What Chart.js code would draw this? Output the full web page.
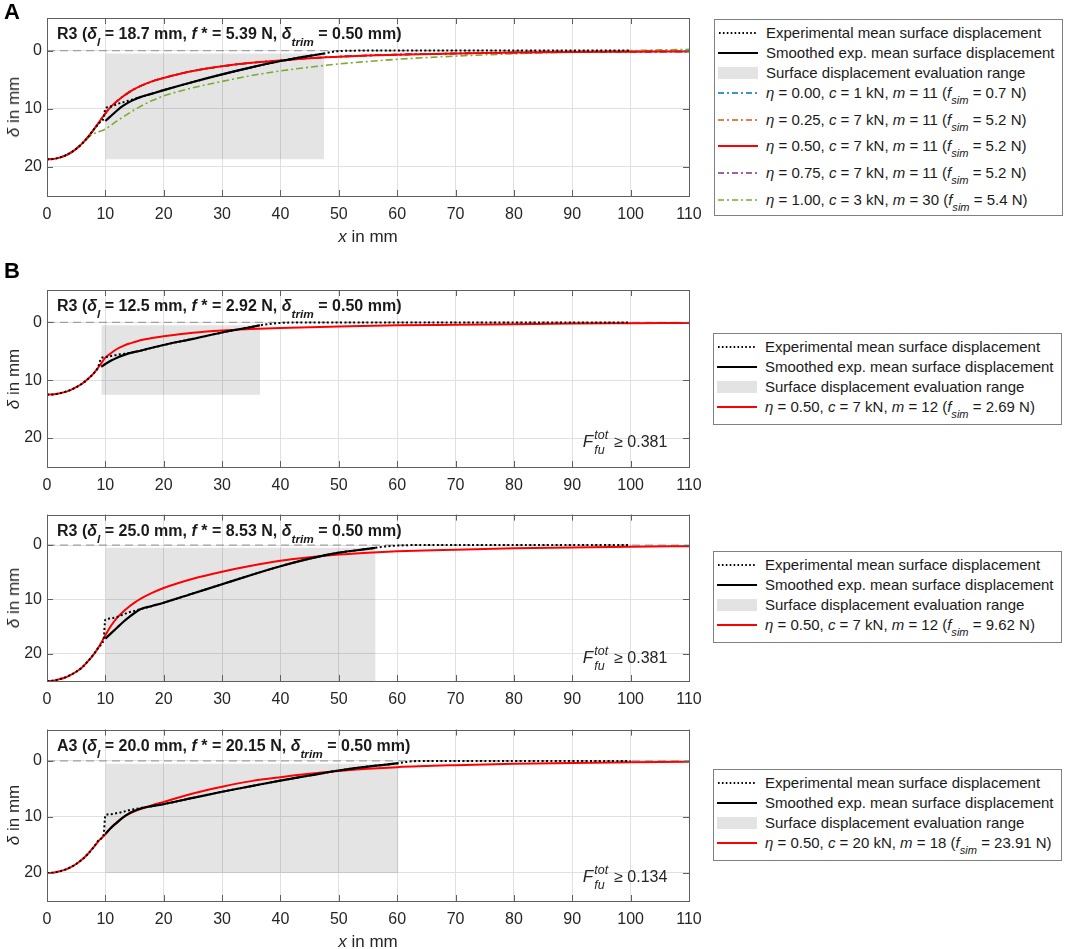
<!DOCTYPE html>
<html>
<head>
<meta charset="utf-8">
<script src="https://cdn.jsdelivr.net/npm/chart.js@4.4.1/dist/chart.umd.min.js"></script>
<style>
html,body{margin:0;padding:0;background:#fff;}
#root{position:relative;width:1065px;height:949px;overflow:hidden;font-family:"Liberation Sans",Arial,Helvetica,sans-serif;color:#1a1a1a;background:#fff;}
canvas{position:absolute;left:0;}
.ov{position:absolute;white-space:nowrap;}
.letter{font-weight:bold;font-size:22px;line-height:22px;color:#000;}
.ptitle{font-weight:bold;font-size:16px;line-height:18px;color:#1a1a1a;transform:translateY(-50%);}
sub.s{font-size:0.74em;vertical-align:-0.55em;line-height:0;}
.ytitle{font-size:17px;line-height:18px;transform:translate(-50%,-50%) rotate(-90deg);color:#262626;}
.xtitle{font-size:17px;line-height:18px;transform:translate(-50%,-50%);color:#262626;}
.ann{font-size:16px;line-height:18px;color:#262626;transform:translate(-100%,-50%);}
.ann i.F{font-size:17px;}
.ss{display:inline-block;vertical-align:-7px;font-size:12.5px;line-height:15px;font-style:italic;margin-left:1px;margin-right:6px;}
.ss span{display:block;}
.legend{position:absolute;border:1px solid #808080;background:#fff;box-sizing:border-box;padding-top:3px;font-size:15px;color:#1a1a1a;}
.row{display:flex;align-items:flex-start;height:20px;}
.row.tall{height:26.7px;}
.row svg{margin-left:3px;margin-top:4px;flex:none;}
.row .t{margin-left:8px;line-height:20px;white-space:nowrap;}
</style>
</head>
<body>
<div id="root"></div>
<script>
// ---------------- DATA ----------------
// common axis settings
const xTicksStep = 10;
const xRange = [0, 110];
const yRange = [-5.6, 25];
const yTicks = [0, 10, 20];
const zeroLineX = [0, 110];
const zeroLineY = [0, 0];

// Panel A : R3 (delta_l = 18.7 mm)
const aExpX = [0,1,2,3,4,5,6,7,8,9,9.7,10,11,12,13,14,16,18,20,25,30,35,40,45,47.5,49,51,55,60,70,80,90,100];
const aExpY = [18.7,18.65,18.45,18.1,17.6,16.9,16.0,14.9,13.6,12.4,11.6,10.0,9.6,9.2,8.9,8.6,8.0,7.4,6.8,5.4,4.1,2.9,1.8,0.9,0.5,0.2,0.05,0,0,0,0,0,0];
const aSmoX = [10,11,12,13,14,15,16,18,20,25,30,35,40,45,47.5];
const aSmoY = [12.1,11.2,10.3,9.5,8.9,8.4,8.0,7.4,6.8,5.4,4.1,2.9,1.8,0.9,0.5];
const aSimX = [0,1,2,3,4,5,6,7,8,9,10,11,12,13,14,15,16,18,20,25,30,35,40,45,50,55,60,70,80,90,100,110];
const aSimEta050Y = [18.7,18.65,18.45,18.1,17.6,16.9,16.0,14.9,13.6,12.2,10.8,9.6,8.7,7.9,7.2,6.6,6.1,5.3,4.7,3.5,2.7,2.1,1.7,1.3,1.05,0.85,0.7,0.5,0.35,0.25,0.2,0.15];
const aSimEta000Y = [18.7,18.65,18.45,18.1,17.6,16.9,16.0,14.9,13.6,12.2,10.8,9.6,8.7,7.9,7.2,6.6,6.1,5.3,4.7,3.5,2.7,2.1,1.7,1.3,1.05,0.85,0.7,0.5,0.35,0.25,0.2,0.15];
const aSimEta025Y = [18.7,18.65,18.45,18.1,17.6,16.9,16.0,14.9,13.6,12.2,10.8,9.6,8.7,7.9,7.2,6.6,6.1,5.3,4.7,3.5,2.7,2.1,1.7,1.3,1.05,0.85,0.7,0.5,0.35,0.25,0.2,0.15];
const aSimEta075Y = [18.7,18.65,18.45,18.1,17.6,16.9,16.0,14.9,13.6,12.2,10.8,9.6,8.7,7.9,7.2,6.6,6.1,5.3,4.7,3.5,2.7,2.1,1.7,1.3,1.05,0.85,0.7,0.5,0.35,0.25,0.2,0.15];
const aSim100X = [0,1,2,3,4,5,6,7,8,9,10,12,14,16,18,20,25,30,35,40,45,50,60,70,80,90,100,110];
const aSimEta100Y = [18.7,18.65,18.45,18.1,17.6,16.9,16.0,15.0,14.3,13.9,13.5,12.1,10.8,9.6,8.6,7.8,6.4,5.3,4.3,3.5,2.85,2.3,1.5,0.95,0.55,0.25,0.0,-0.2];
const aRangeX = [10, 47.5];
const aRangeDepth = [0.5, 18.7];

// Panel B1 : R3 (delta_l = 12.5 mm)
const b1ExpX = [0,1,2,3,4,5,6,7,8,8.7,9.3,10,11,12,13,14,16,20,25,30,35,36.5,38,40,45,55,70,85,100];
const b1ExpY = [12.5,12.45,12.3,12.05,11.7,11.2,10.6,9.8,8.8,7.9,6.2,6.0,5.8,5.6,5.45,5.3,4.9,3.9,2.85,1.75,0.8,0.5,0.3,0.1,0,0,0,0,0];
const b1SmoX = [9.3,10,11,12,13,14,16,20,25,30,35,36.5];
const b1SmoY = [7.7,7.2,6.6,6.1,5.7,5.35,4.9,3.9,2.85,1.75,0.8,0.5];
const b1SimX = [0,1,2,3,4,5,6,7,8,9,10,11,12,13,14,15,16,18,20,25,30,35,40,50,60,70,80,90,100,110];
const b1SimY = [12.5,12.45,12.3,12.05,11.7,11.2,10.6,9.8,8.8,7.5,6.1,5.3,4.6,4.1,3.7,3.4,3.1,2.7,2.4,1.8,1.4,1.15,0.95,0.7,0.5,0.4,0.3,0.2,0.15,0.1];
const b1RangeX = [9.3, 36.5];
const b1RangeDepth = [0.5, 12.5];

// Panel B2 : R3 (delta_l = 25.0 mm)
const b2ExpX = [0,1,2,3,4,5,6,7,8,9,9.7,10,11,12,13,14,15,16,20,25,30,35,40,45,50,55,56.3,58,60,63,70,85,100];
const b2ExpY = [25,24.95,24.7,24.4,23.9,23.3,22.5,21.4,20.1,18.6,17.3,13.7,13.5,13.2,12.8,12.4,12.1,11.8,10.6,8.9,7.2,5.5,3.9,2.5,1.4,0.7,0.5,0.25,0.1,0,0,0,0];
const b2SmoX = [10,11,12,13,14,15,16,18,20,25,30,35,40,45,50,55,56.3];
const b2SmoY = [17.2,16.2,15.2,14.2,13.3,12.5,11.8,11.2,10.6,8.9,7.2,5.5,3.9,2.5,1.4,0.7,0.5];
const b2SimX = [0,1,2,3,4,5,6,7,8,9,10,11,12,13,14,15,16,18,20,25,30,35,40,45,50,55,60,70,80,90,100,110];
const b2SimY = [25,24.95,24.7,24.4,23.9,23.3,22.5,21.4,20.1,18.5,16.6,14.8,13.4,12.3,11.4,10.6,9.9,8.8,7.9,6.2,4.9,3.8,2.9,2.25,1.75,1.4,1.15,0.85,0.6,0.45,0.3,0.2];
const b2RangeX = [10, 56.3];
const b2RangeDepth = [0.5, 25.0];

// Panel B3 : A3 (delta_l = 20.0 mm)
const b3ExpX = [0,1,2,3,4,5,6,7,8,9,9.7,10,11,12,13,14,15,16,18,20,25,30,35,40,45,50,55,60.2,62,65,75,90,100];
const b3ExpY = [20,19.95,19.75,19.45,19.0,18.4,17.6,16.6,15.4,14.0,13.2,9.7,9.5,9.3,9.1,8.8,8.6,8.4,8.05,7.7,6.6,5.5,4.5,3.5,2.6,1.7,1.0,0.4,0.1,0,0,0,0];
const b3SmoX = [10,11,12,13,14,15,16,18,20,25,30,35,40,45,50,55,60.2];
const b3SmoY = [13.0,11.9,11.0,10.1,9.4,8.9,8.5,8.05,7.7,6.6,5.5,4.5,3.5,2.6,1.7,1.0,0.4];
const b3SimX = [0,1,2,3,4,5,6,7,8,9,10,11,12,13,14,15,16,18,20,25,30,35,40,45,50,55,60,70,80,90,100,110];
const b3SimY = [20,19.95,19.75,19.45,19.0,18.4,17.6,16.6,15.4,14.1,13.1,11.9,10.9,10.1,9.5,9.0,8.6,7.9,7.3,5.8,4.6,3.6,2.9,2.3,1.8,1.4,1.1,0.75,0.5,0.35,0.25,0.15];
const b3RangeX = [10, 60.2];
const b3RangeDepth = [0.5, 20.0];

// Panel headers / annotations
const panelNames = ['R3','R3','R3','A3'];
const panelDeltaL = ['18.7','12.5','25.0','20.0'];
const panelFstar = ['5.39','2.92','8.53','20.15'];
const panelTrim = ['0.50','0.50','0.50','0.50'];
const panelFfu = [null,'0.381','0.381','0.134'];

// Legend entries
const legendCommon = ['Experimental mean surface displacement','Smoothed exp. mean surface displacement','Surface displacement evaluation range'];
const aLegEta = ['0.00','0.25','0.50','0.75','1.00'];
const aLegC = ['1','7','7','7','3'];
const aLegM = ['11','11','11','11','30'];
const aLegF = ['0.7','5.2','5.2','5.2','5.4'];
const bLegEta = ['0.50','0.50','0.50'];
const bLegC = ['7','7','20'];
const bLegM = ['12','12','18'];
const bLegF = ['2.69','9.62','23.91'];

// ---------------- STYLE ----------------
const FONT = "'Liberation Sans', Arial, Helvetica, sans-serif";
const C_BLUE='#0072BD', C_ORANGE='#D95319', C_RED='#FF0000', C_PURPLE='#7E2F8E', C_GREEN='#77AC30';
const C_BOX='rgba(0,0,0,0.105)';
const DOT=[2,2.4], DASHDOT=[7,3,2,3];

const pts = (xs, ys) => xs.map((x,i)=>({x, y: ys[i]}));

function lineDs(xs, ys, color, width, dash){
  return {data: pts(xs,ys), borderColor: color, borderWidth: width, borderDash: dash||[], pointRadius: 0, fill: false, cubicInterpolationMode: 'monotone', borderCapStyle:'butt'};
}
function rangeDs(rx, rd){
  return {data: pts(rx, [rd[1], rd[1]]), borderWidth: 0, borderColor: 'rgba(0,0,0,0)', backgroundColor: C_BOX, pointRadius: 0, fill: {value: rd[0]}, tension: 0};
}
function zeroDs(){
  return {data: pts(zeroLineX, zeroLineY), borderColor: '#a0a0a0', borderWidth: 1.2, borderDash: [8,5], pointRadius: 0, fill: false};
}

const decor = {
  id: 'decor',
  afterDraw(chart){
    const {ctx, chartArea: a, scales: {x, y}} = chart;
    ctx.save();
    ctx.strokeStyle = '#5f5f5f';
    ctx.lineWidth = 1;
    ctx.beginPath();
    x.ticks.forEach(t => {
      const px = Math.round(x.getPixelForValue(t.value)) + 0.5;
      ctx.moveTo(px, a.top); ctx.lineTo(px, a.top + 6);
      ctx.moveTo(px, a.bottom); ctx.lineTo(px, a.bottom - 6);
    });
    y.ticks.forEach(t => {
      const py = Math.round(y.getPixelForValue(t.value)) + 0.5;
      ctx.moveTo(a.left, py); ctx.lineTo(a.left + 6, py);
      ctx.moveTo(a.right, py); ctx.lineTo(a.right - 6, py);
    });
    ctx.stroke();
    ctx.strokeRect(Math.round(a.left) + 0.5, Math.round(a.top) + 0.5, Math.round(a.right - a.left), Math.round(a.bottom - a.top));
    ctx.restore();
  }
};

function makeChart(cfg){
  const root = document.getElementById('root');
  const cv = document.createElement('canvas');
  cv.width = 720; cv.height = cfg.h;
  cv.style.width = '720px'; cv.style.height = cfg.h + 'px';
  cv.style.top = cfg.top + 'px';
  root.appendChild(cv);
  const tickFont = {family: FONT, size: 16};
  return new Chart(cv, {
    type: 'line',
    data: {datasets: cfg.datasets},
    options: {
      responsive: false, maintainAspectRatio: false, animation: false, devicePixelRatio: 1,
      layout: {padding: {top: cfg.padTop, right: 31, left: 0, bottom: 0}},
      plugins: {legend: {display: false}, tooltip: {enabled: false}},
      scales: {
        x: {type: 'linear', min: xRange[0], max: xRange[1],
            ticks: {stepSize: xTicksStep, font: tickFont, color: '#262626', padding: 9, maxRotation: 0, autoSkip: false},
            grid: {color: '#e0e0e0', drawTicks: false}, border: {display: false},
            afterFit: s => { s.height = cfg.xAxisH; }},
        y: {type: 'linear', reverse: true, min: yRange[0], max: yRange[1],
            afterBuildTicks: s => { s.ticks = yTicks.map(v => ({value: v})); },
            ticks: {font: tickFont, color: '#262626', padding: 5},
            grid: {color: '#e0e0e0', drawTicks: false}, border: {display: false},
            afterFit: s => { s.width = 47; }}
      }
    },
    plugins: [decor]
  });
}

function addOv(cls, html, left, top){
  const d = document.createElement('div');
  d.className = 'ov ' + cls;
  d.innerHTML = html;
  d.style.left = left + 'px';
  d.style.top = top + 'px';
  document.getElementById('root').appendChild(d);
  return d;
}

function swatch(type, color){
  if (type === 'dot') return '<svg width="40" height="12"><line x1="1" y1="6" x2="40" y2="6" stroke="#000" stroke-width="2" stroke-dasharray="1.6 2.3"/></svg>';
  if (type === 'solid') return '<svg width="40" height="12"><line x1="0" y1="6" x2="40" y2="6" stroke="'+color+'" stroke-width="2.2"/></svg>';
  if (type === 'patch') return '<svg width="40" height="12"><rect x="0" y="-0.5" width="40" height="13" fill="#e3e3e3"/></svg>';
  return '<svg width="40" height="12"><line x1="0" y1="6" x2="40" y2="6" stroke="'+color+'" stroke-width="1.6" stroke-dasharray="6 3 2 3"/></svg>';
}
function etaLabel(e, c, m, f){
  return '<i>η</i> = ' + e + ', <i>c</i> = ' + c + ' kN, <i>m</i> = ' + m + ' (<i>f</i><sub class="s"><i>sim</i></sub> = ' + f + ' N)';
}
function addLegend(left, top, width, height, rows){
  const d = document.createElement('div');
  d.className = 'legend';
  d.style.left = left + 'px'; d.style.top = top + 'px';
  d.style.width = width + 'px'; d.style.height = height + 'px';
  d.innerHTML = rows.map(r => '<div class="row' + (r.tall ? ' tall' : '') + '">' + swatch(r.type, r.color) + '<span class="t">' + r.label + '</span></div>').join('');
  document.getElementById('root').appendChild(d);
}

// ---------------- PANELS ----------------
const panelCfg = [
  {top: 0, h: 250, padTop: 18, xAxisH: 54, xTitle: true,
   datasets: [
     lineDs(aExpX, aExpY, '#000', 2, DOT),
     lineDs(aSmoX, aSmoY, '#000', 2.2),
     lineDs(aSimX, aSimEta050Y, C_RED, 2),
     lineDs(aSimX, aSimEta075Y, C_PURPLE, 1.6, DASHDOT),
     lineDs(aSimX, aSimEta025Y, C_ORANGE, 1.6, DASHDOT),
     lineDs(aSimX, aSimEta000Y, C_BLUE, 1.6, DASHDOT),
     lineDs(aSim100X, aSimEta100Y, C_GREEN, 1.6, DASHDOT),
     zeroDs(), rangeDs(aRangeX, aRangeDepth)]},
  {top: 270, h: 230, padTop: 20, xAxisH: 33, xTitle: false,
   datasets: [lineDs(b1ExpX, b1ExpY, '#000', 2, DOT), lineDs(b1SmoX, b1SmoY, '#000', 2.2), lineDs(b1SimX, b1SimY, C_RED, 2), zeroDs(), rangeDs(b1RangeX, b1RangeDepth)]},
  {top: 500, h: 215, padTop: 4, xAxisH: 34, xTitle: false,
   datasets: [lineDs(b2ExpX, b2ExpY, '#000', 2, DOT), lineDs(b2SmoX, b2SmoY, '#000', 2.2), lineDs(b2SimX, b2SimY, C_RED, 2), zeroDs(), rangeDs(b2RangeX, b2RangeDepth)]},
  {top: 715, h: 234, padTop: 9, xAxisH: 48, xTitle: true,
   datasets: [lineDs(b3ExpX, b3ExpY, '#000', 2, DOT), lineDs(b3SmoX, b3SmoY, '#000', 2.2), lineDs(b3SimX, b3SimY, C_RED, 2), zeroDs(), rangeDs(b3RangeX, b3RangeDepth)]}
];

panelCfg.forEach((cfg, i) => {
  const ch = makeChart(cfg);
  const a = ch.chartArea;
  const T = cfg.top;
  const x = ch.scales.x, y = ch.scales.y;
  addOv('ptitle', panelNames[i] + ' (<i>δ<sub class="s">l</sub></i> = ' + panelDeltaL[i] + ' mm, <i>f</i> * = ' + panelFstar[i] + ' N, <i>δ<sub class="s">trim</sub></i> = ' + panelTrim[i] + ' mm)', a.left + 10, T + a.top + 16);
  addOv('ytitle', '<i>δ</i> in mm', 14, T + (a.top + a.bottom) / 2);
  if (cfg.xTitle) addOv('xtitle', '<i>x</i> in mm', (a.left + a.right) / 2, T + a.bottom + 41);
  if (panelFfu[i]) {
    addOv('ann', '<i class="F">F</i><span class="ss"><span>tot</span><span>fu</span></span>≥ ' + panelFfu[i], x.getPixelForValue(106.3), T + y.getPixelForValue(20) + 5);
  }
});

addOv('letter', 'A', 4, 1);
addOv('letter', 'B', 4, 260);

const rowsCommon = [
  {type: 'dot', label: legendCommon[0]},
  {type: 'solid', color: '#000', label: legendCommon[1]},
  {type: 'patch', label: legendCommon[2]}
];
const aColors = [C_BLUE, C_ORANGE, C_RED, C_PURPLE, C_GREEN];
addLegend(714, 19, 349, 197, rowsCommon.concat(aLegEta.map((e, k) => ({type: k === 2 ? 'solid' : 'dashdot', color: aColors[k], tall: true, label: etaLabel(e, aLegC[k], aLegM[k], aLegF[k])}))));
const bLegTops = [333, 551, 769];
bLegTops.forEach((t, k) => {
  addLegend(713, t, 349, 92, rowsCommon.concat([{type: 'solid', color: C_RED, tall: true, label: etaLabel(bLegEta[k], bLegC[k], bLegM[k], bLegF[k])}]));
});
</script>
</body>
</html>
